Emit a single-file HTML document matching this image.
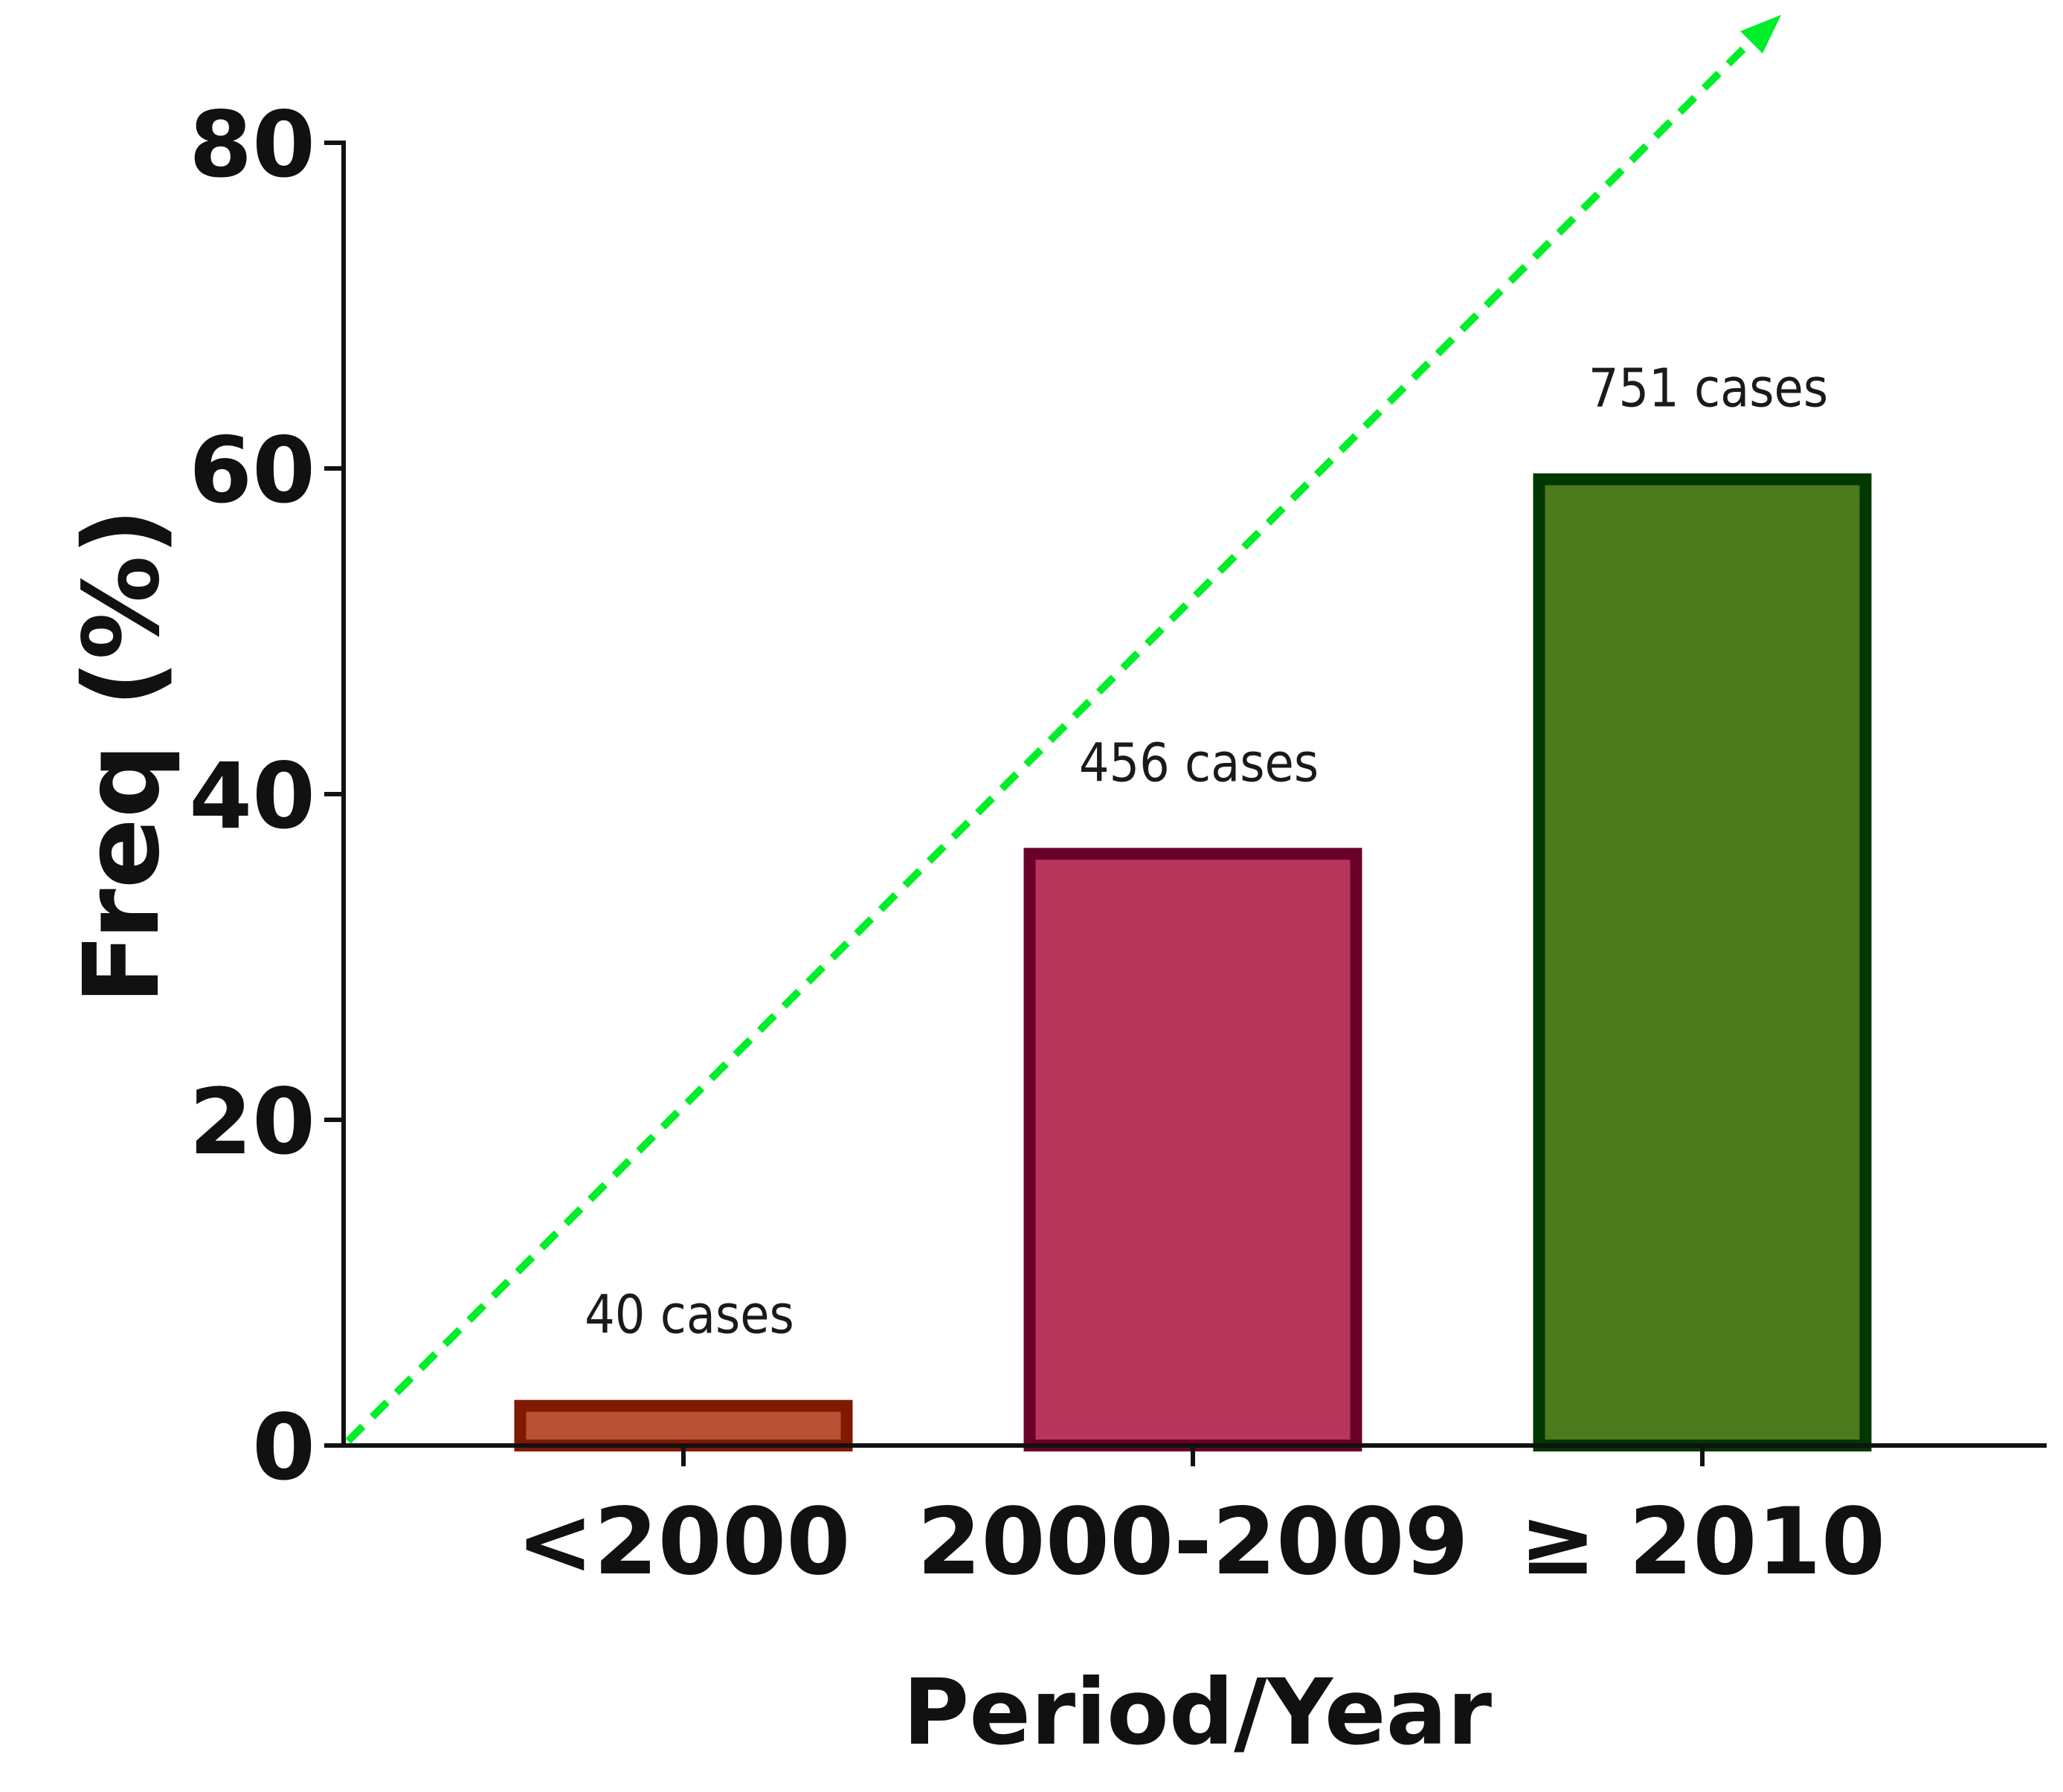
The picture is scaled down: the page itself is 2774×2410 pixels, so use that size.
<!DOCTYPE html>
<html><head><meta charset="utf-8"><style>
html,body{margin:0;padding:0;background:#fff}
svg{display:block}
</style></head><body>
<svg id="chart" width="2774" height="2410" viewBox="0 0 2774 2410" xmlns="http://www.w3.org/2000/svg" font-family="'DejaVu Sans','Liberation Sans',sans-serif">
<g id="marks"></g>
</svg>
<script>
const categories = ['<2000', '2000-2009', '\u2265 2010'];
const values = [2.8, 36.7, 59.7];
const caseLabels = ['40 cases', '456 cases', '751 cases'];
const yTicks = [0, 20, 40, 60, 80];
const fills = ['#b85234', '#b8365c', '#4e7a1e'];
const strokes = ['#7f1a00', '#6a002a', '#003800'];

const NS = 'http://www.w3.org/2000/svg';
const g = document.getElementById('marks');
const x0 = 462, x1 = 2752, yTop = 192, yZero = 1944;
const yMax = 80;
function yScale(v){ return yZero - (v / yMax) * (yZero - yTop); }
const catStart = 919, catStep = 685;
function xScale(i){ return catStart + i * catStep; }
const barW = 455;
function mk(tag, attrs){ const e = document.createElementNS(NS, tag); for (const k in attrs) e.setAttribute(k, attrs[k]); g.appendChild(e); return e; }

// bars
categories.forEach((c, i) => {
  const cx = xScale(i), top = yScale(values[i]);
  const r = mk('rect', {x: cx - barW/2 + 8, y: top + 8, width: barW - 16, height: Math.max(yZero - top - 8, 0), fill: fills[i], stroke: strokes[i], 'stroke-width': 16});
  
  
  const t = mk('text', {x: cx + 8, y: top - 90, 'font-size': 71, fill: '#1a1a1a', 'text-anchor': 'middle', 'font-family': "'DejaVu Sans Condensed','DejaVu Sans',sans-serif"});
  t.textContent = caseLabels[i];
  
  
  const tk = mk('line', {x1: cx, x2: cx, y1: yZero, y2: yZero + 28, stroke: '#111', 'stroke-width': 6});
  
  
  const xl = mk('text', {x: cx, y: yZero + 172, 'font-size': 124, 'font-weight': 'bold', fill: '#111', 'text-anchor': 'middle'});
  xl.textContent = categories[i];
  
  
});

// axes
const ya = mk('line', {x1: x0, x2: x0, y1: yTop - 3, y2: yZero + 3, stroke: '#111', 'stroke-width': 6});


const xa = mk('line', {x1: x0 - 3, x2: x1, y1: yZero, y2: yZero, stroke: '#111', 'stroke-width': 6});


yTicks.forEach(v => {
  const y = yScale(v);
  const l = mk('line', {x1: x0 - 26, x2: x0, y1: y, y2: y, stroke: '#111', 'stroke-width': 6});
  
  
  const t = mk('text', {x: x0 - 38, y: y + 45, 'font-size': 122, 'font-weight': 'bold', fill: '#111', 'text-anchor': 'end'});
  t.textContent = v;
  
  
});

// trend arrow
const ln = mk('line', {x1: x0 + 6, y1: yZero - 6, x2: 2350, y2: 60, stroke: '#00ee2a', 'stroke-width': 10, 'stroke-dasharray': '28 18'});


const ah = mk('polygon', {points: '2395,20 2340,42 2370,72', fill: '#00ee2a'});



// titles
const xt = mk('text', {x: 1610, y: 2345, 'font-size': 122, 'font-weight': 'bold', fill: '#111', 'text-anchor': 'middle'});
xt.textContent = 'Period/Year';


const yt = mk('text', {x: 0, y: 0, 'font-size': 140, 'font-weight': 'bold', fill: '#111', 'text-anchor': 'middle', transform: 'translate(212,1017) rotate(-90)'});
yt.textContent = 'Freq (%)';


</script>
</body></html>
